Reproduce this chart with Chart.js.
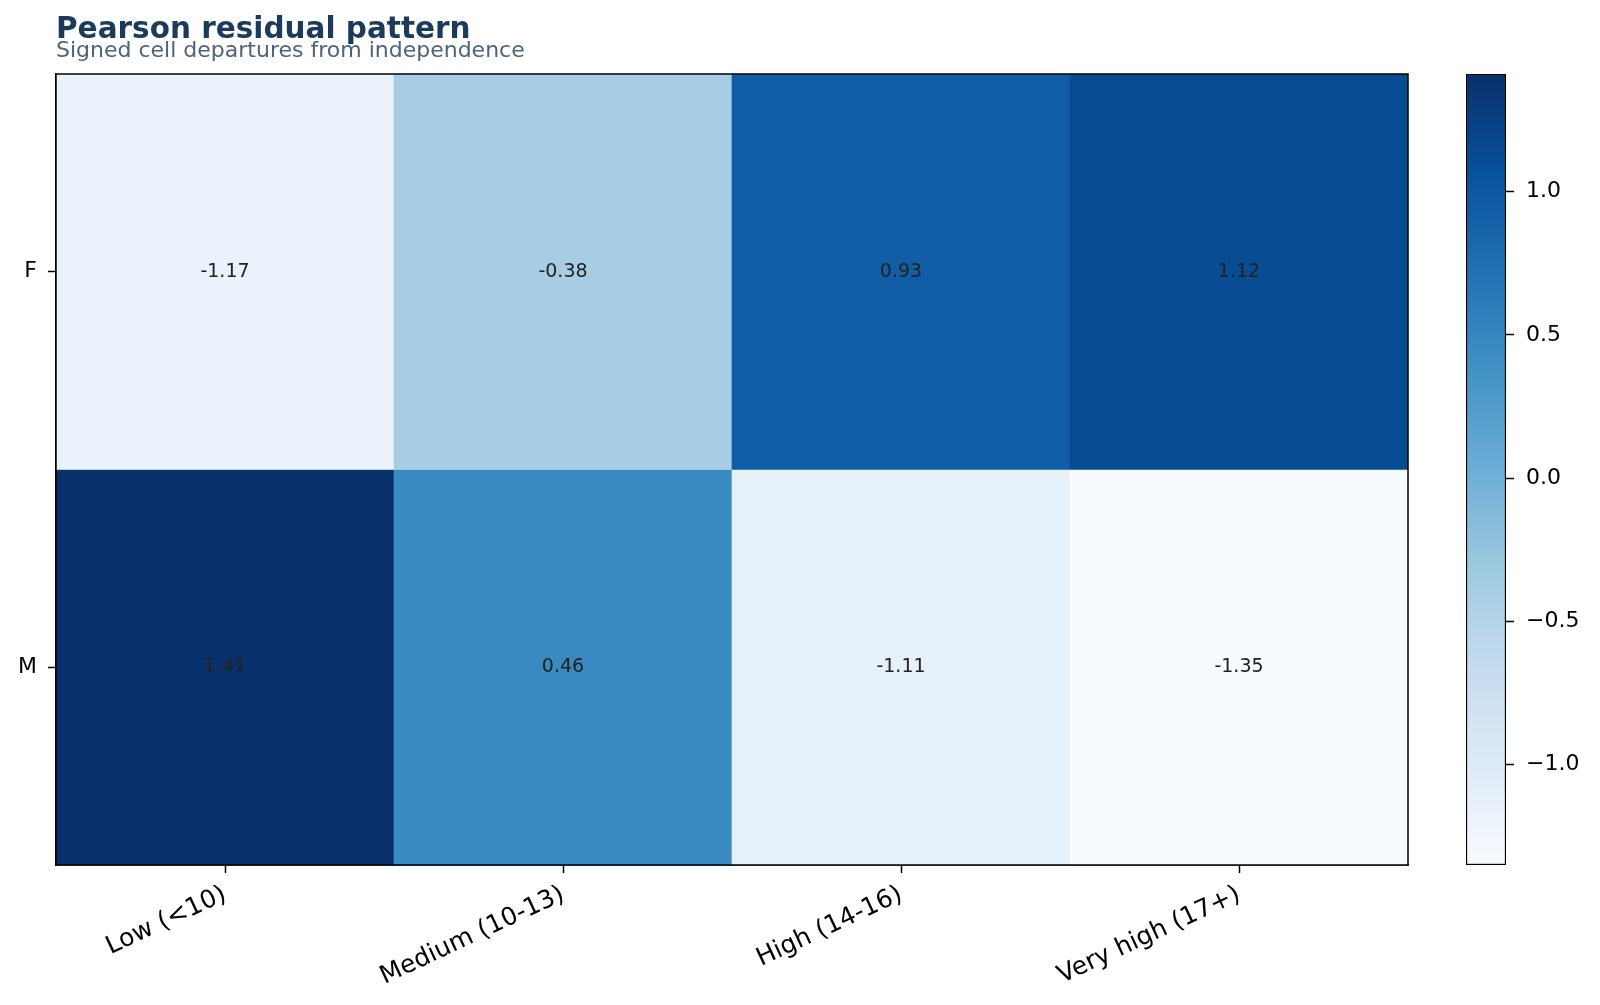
<!DOCTYPE html>
<html>
<head>
<meta charset="utf-8">
<script src="https://cdn.jsdelivr.net/npm/chart.js"></script>
<style>
  html, body { margin: 0; padding: 0; background: #fff; }
  body { width: 1600px; height: 1005px; position: relative; overflow: hidden; font-family: "DejaVu Sans", sans-serif; }
  #title { position: absolute; left: 56px; top: 14px; font-size: 29.5px; line-height: 29.5px; font-weight: bold; color: #1b3a5c; white-space: nowrap; }
  #subtitle { position: absolute; left: 56px; top: 39px; font-size: 22px; line-height: 22px; color: #4f6478; white-space: nowrap; }
  #mainWrap { position: absolute; left: 0; top: 0; width: 1600px; height: 1005px; }
  #barWrap { position: absolute; left: 1440px; top: 0; width: 160px; height: 1005px; }
</style>
</head>
<body>
<div id="mainWrap"><canvas id="heat" width="1600" height="1005"></canvas></div>
<div id="barWrap"><canvas id="cbar" width="160" height="1005"></canvas></div>
<div id="title">Pearson residual pattern</div>
<div id="subtitle">Signed cell departures from independence</div>
<script>
// data
const columns = ['Low (<10)', 'Medium (10-13)', 'High (14-16)', 'Very high (17+)'];
const rows = ['F', 'M'];
const residF = [-1.17, -0.38, 0.93, 1.12];
const residM = [1.41, 0.46, -1.11, -1.35];
const cbarTicks = [-1.0, -0.5, 0.0, 0.5, 1.0];

const vmin = Math.min(...residF, ...residM);
const vmax = Math.max(...residF, ...residM);

// matplotlib "Blues"
const blues = [
  [247, 251, 255], [222, 235, 247], [198, 219, 239], [158, 202, 225],
  [107, 174, 214], [66, 146, 198], [33, 113, 181], [8, 81, 156], [8, 48, 107]
];

function bluesAt(t) {
  t = Math.max(0, Math.min(1, t));
  const pos = t * (blues.length - 1);
  const i = Math.min(Math.floor(pos), blues.length - 2);
  const f = pos - i;
  const a = blues[i], b = blues[i + 1];
  const c = a.map((v, k) => Math.round(v + (b[k] - v) * f));
  return `rgb(${c[0]},${c[1]},${c[2]})`;
}
function colorFor(v) { return bluesAt((v - vmin) / (vmax - vmin)); }

Chart.defaults.font.family = '"DejaVu Sans", sans-serif';
Chart.defaults.color = '#000';

const FONT_TICK = { size: 22 };

// frame around the plot area, like matplotlib spines
const framePlugin = {
  id: 'frame',
  afterDraw(chart) {
    const { ctx, chartArea: a } = chart;
    ctx.save();
    ctx.strokeStyle = '#000';
    ctx.lineWidth = 1.5;
    ctx.strokeRect(a.left, a.top, a.right - a.left, a.bottom - a.top);
    ctx.restore();
  }
};

// numbers written in the middle of each cell
const cellLabels = {
  id: 'cellLabels',
  afterDatasetsDraw(chart) {
    const ctx = chart.ctx;
    ctx.save();
    ctx.font = '19px "DejaVu Sans", sans-serif';
    ctx.fillStyle = '#222';
    ctx.textAlign = 'center';
    ctx.textBaseline = 'middle';
    chart.data.datasets.forEach((ds, di) => {
      const meta = chart.getDatasetMeta(di);
      meta.data.forEach((el, i) => {
        const y = (el.y + el.base) / 2;
        ctx.fillText(ds.values[i].toFixed(2), el.x, y);
      });
    });
    ctx.restore();
  }
};

function rowDataset(label, values, r) {
  return {
    label,
    values,
    data: values.map(() => [r, r + 1]),
    backgroundColor: values.map(colorFor),
    borderWidth: 0,
    barPercentage: 1,
    categoryPercentage: 1,
    grouped: false
  };
}

new Chart(document.getElementById('heat'), {
  type: 'bar',
  data: {
    labels: columns,
    datasets: [rowDataset(rows[0], residF, 0), rowDataset(rows[1], residM, 1)]
  },
  options: {
    responsive: false,
    devicePixelRatio: 1,
    animation: false,
    layout: { padding: { top: 74, right: 192, left: 0, bottom: 0 } },
    plugins: { legend: { display: false }, tooltip: { enabled: false } },
    scales: {
      x: {
        afterFit(s) { s.height = 140; },
        grid: { offset: false, drawOnChartArea: false, tickLength: 8, tickColor: '#000', tickWidth: 1.5 },
        border: { color: '#000', width: 1.5 },
        ticks: { font: { size: 25 }, color: '#000', minRotation: 25, maxRotation: 25, padding: 7, autoSkip: false }
      },
      y: {
        type: 'linear',
        min: 0,
        max: rows.length,
        reverse: true,
        afterFit(s) { s.width = 56; },
        afterBuildTicks(s) { s.ticks = rows.map((r, i) => ({ value: i + 0.5 })); },
        grid: { drawOnChartArea: false, tickLength: 8, tickColor: '#000', tickWidth: 1.5 },
        border: { color: '#000', width: 1.5 },
        ticks: { font: FONT_TICK, color: '#000', padding: 11, callback: (v, i) => rows[i] }
      }
    }
  },
  plugins: [cellLabels, framePlugin]
});

// colour bar
function gradientFill(context) {
  const chart = context.chart;
  const { ctx, chartArea, scales } = chart;
  if (!chartArea) return colorFor(0);
  const y0 = scales.y.getPixelForValue(vmin);
  const y1 = scales.y.getPixelForValue(vmax);
  const g = ctx.createLinearGradient(0, y0, 0, y1);
  blues.forEach((c, i) => g.addColorStop(i / (blues.length - 1), `rgb(${c[0]},${c[1]},${c[2]})`));
  return g;
}

new Chart(document.getElementById('cbar'), {
  type: 'bar',
  data: {
    labels: [''],
    datasets: [{
      data: [[vmin, vmax]],
      backgroundColor: gradientFill,
      borderColor: '#000',
      borderWidth: 1.5,
      borderSkipped: false,
      barPercentage: 1,
      categoryPercentage: 1
    }]
  },
  options: {
    responsive: false,
    devicePixelRatio: 1,
    animation: false,
    layout: { padding: { top: 74, bottom: 140, left: 26, right: 0 } },
    plugins: { legend: { display: false }, tooltip: { enabled: false } },
    scales: {
      x: { display: false },
      y: {
        position: 'right',
        min: vmin,
        max: vmax,
        afterFit(s) { s.width = 94; },
        afterBuildTicks(s) { s.ticks = cbarTicks.map(v => ({ value: v })); },
        grid: { drawOnChartArea: false, tickLength: 8, tickColor: '#000', tickWidth: 1.5 },
        border: { display: false },
        ticks: {
          font: FONT_TICK,
          color: '#000',
          padding: 12,
          callback: v => v.toFixed(1).replace('-', '\u2212')
        }
      }
    }
  }
});
</script>
</body>
</html>
